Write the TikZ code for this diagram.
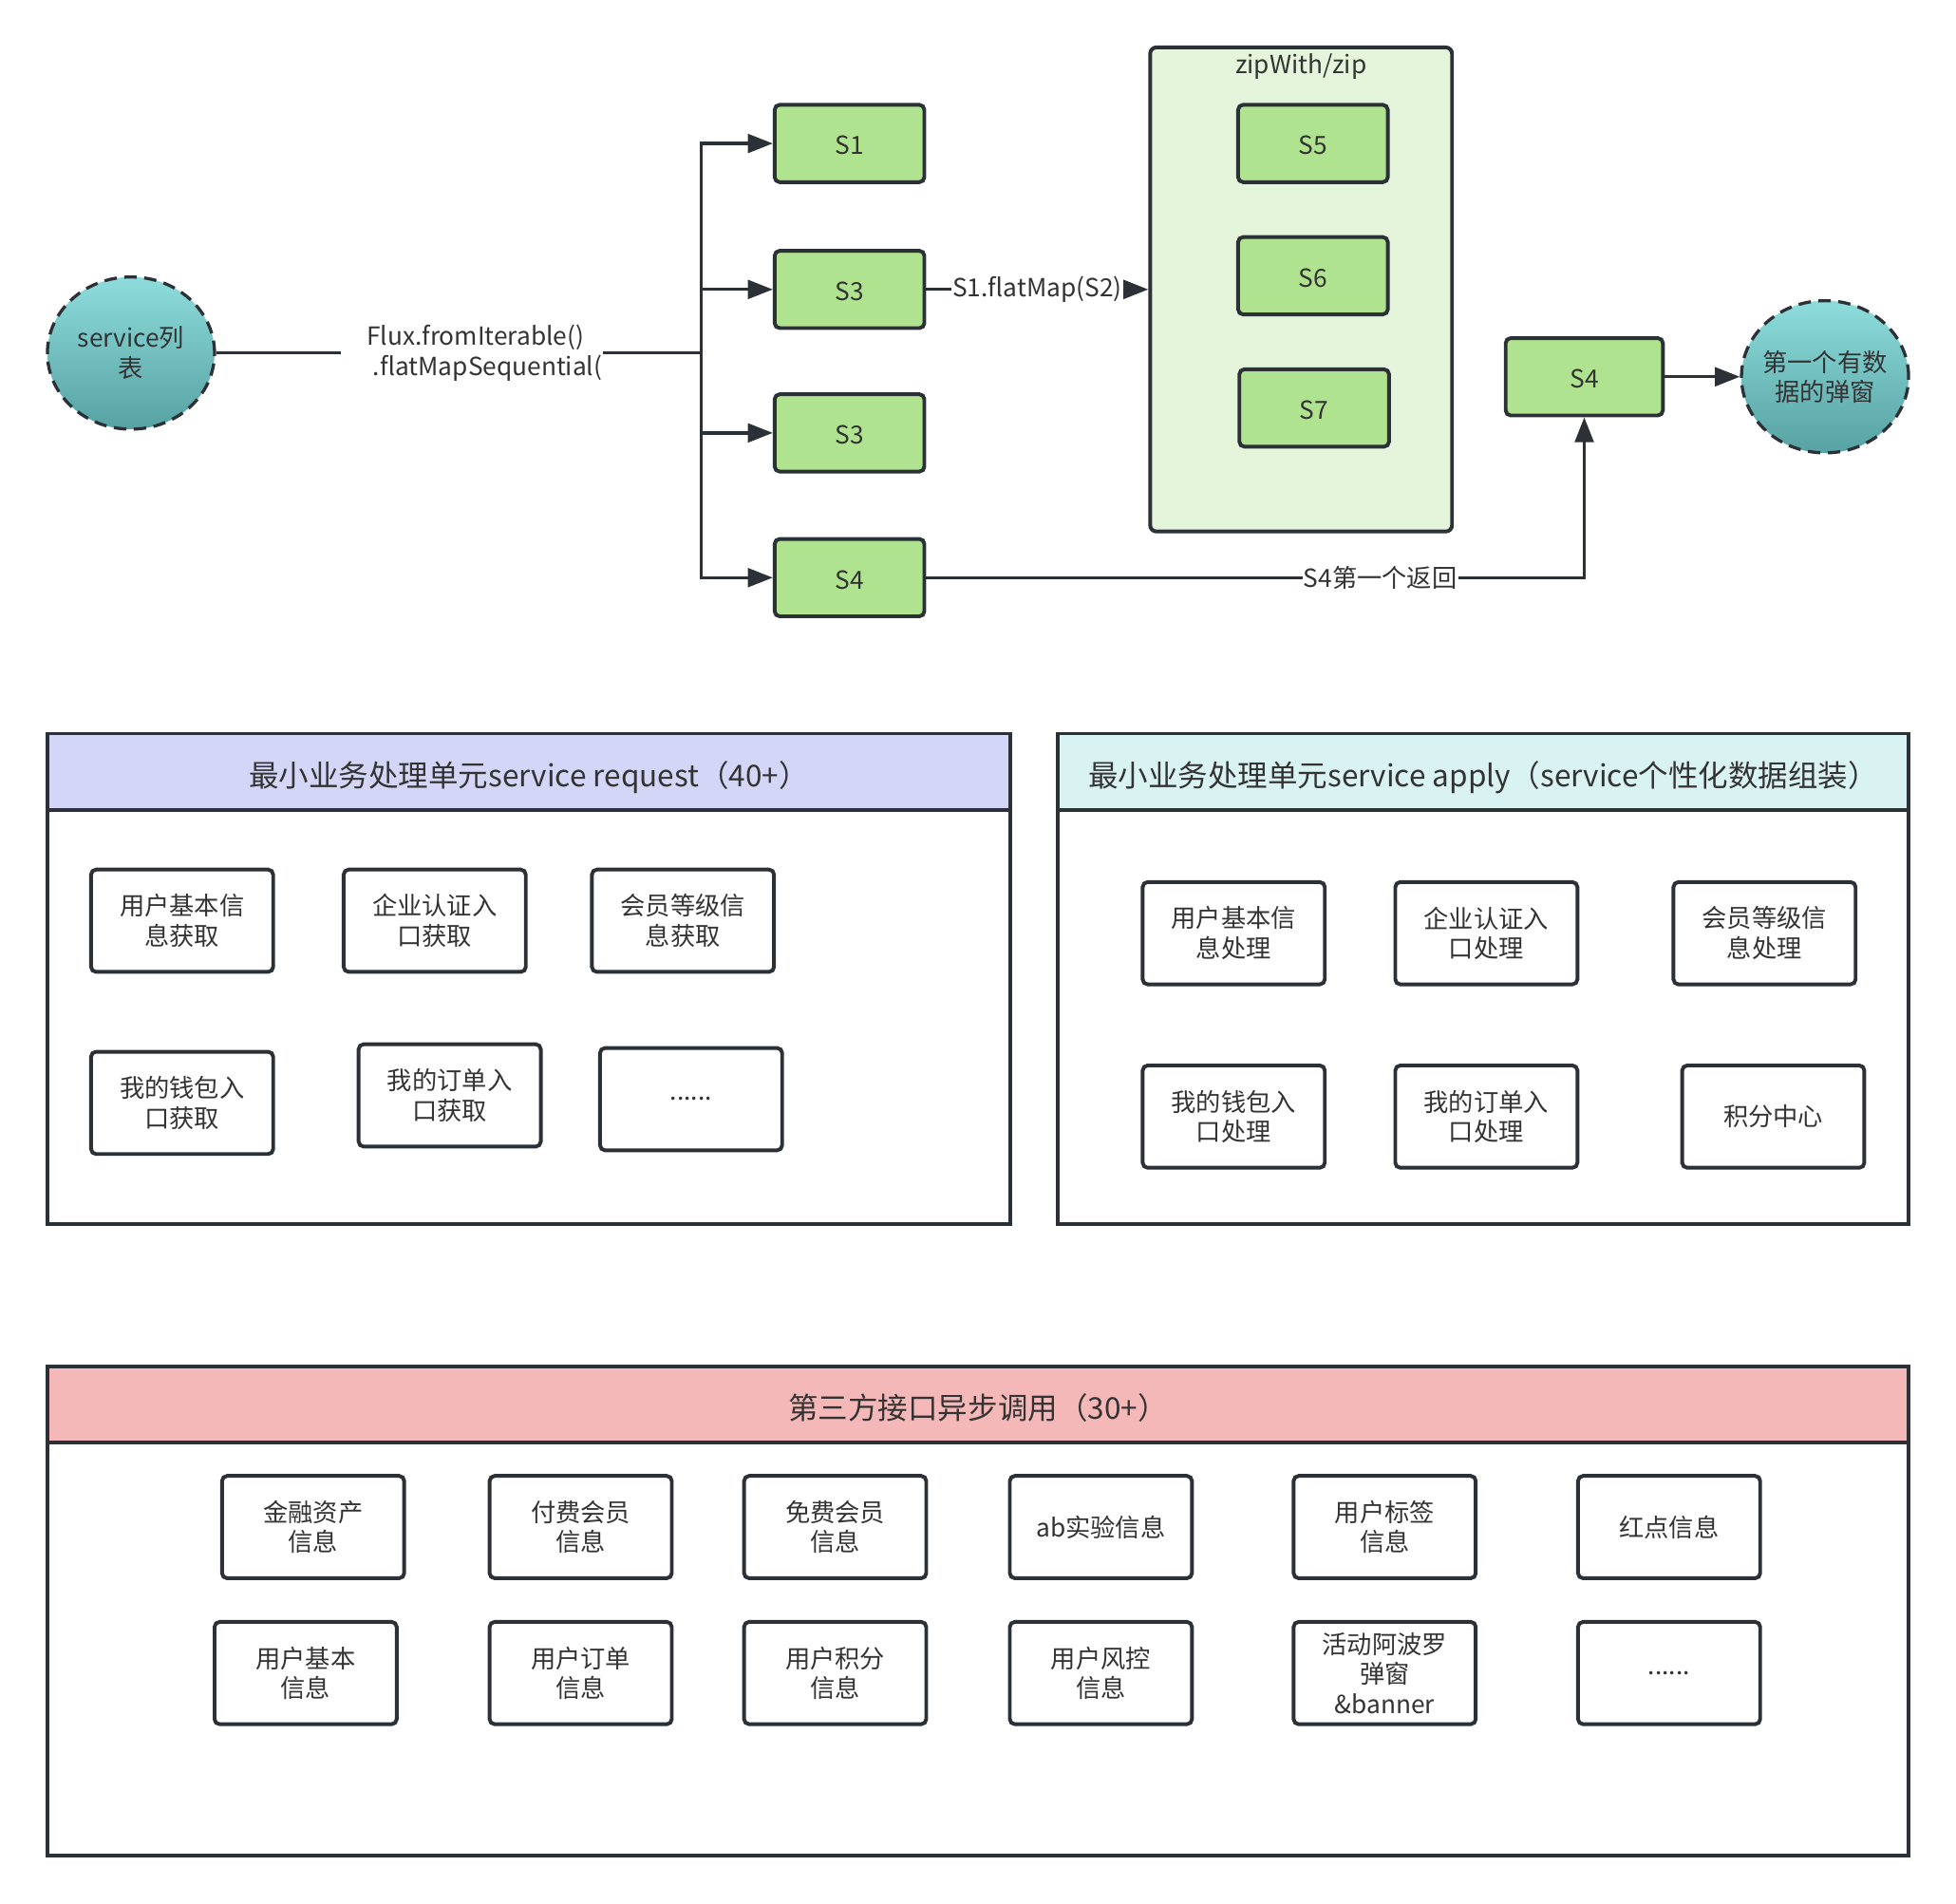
\documentclass[tikz,border=0pt]{standalone}
\usepackage{fontspec}
\setmainfont{Noto Sans CJK SC}
\usetikzlibrary{arrows.meta,shapes.geometric}
\definecolor{ln}{HTML}{2B3137}
\definecolor{txt}{HTML}{333333}
\definecolor{gfill}{HTML}{B0E38F}
\definecolor{zfill}{HTML}{E4F5DB}
\definecolor{tealtop}{HTML}{8EDCDC}
\definecolor{tealbot}{HTML}{57A2A3}
\definecolor{lav}{HTML}{D3D6F7}
\definecolor{cyanh}{HTML}{D9F3F2}
\definecolor{pinkh}{HTML}{F4B8B8}
\begin{document}
\begin{tikzpicture}[x=1pt,y=-1pt,
  txtf/.style={font=\fontsize{20}{24}\selectfont, text=txt},
  gbox/.style={txtf, draw=ln, line width=3pt, rounded corners=4pt, fill=gfill, minimum width=120pt, minimum height=62pt, inner sep=0pt, text height=18pt, text depth=0pt},
  wbox/.style={txtf, draw=ln, line width=3pt, rounded corners=4pt, fill=white, minimum width=146pt, minimum height=82pt, align=center, inner sep=0pt},
  circ/.style={ellipse, draw=ln, line width=2.5pt, dash pattern=on 10pt off 6pt, top color=tealtop, bottom color=tealbot, minimum width=134pt, minimum height=122pt, inner sep=0pt},
  ctext/.style={txtf, align=center, inner sep=0pt},
  conn/.style={draw=ln, line width=2.5pt},
  arr/.style={conn, -{Triangle[length=20pt,width=15pt]}},
  lab/.style={txtf, fill=white, inner sep=1pt},
  panel/.style={draw=ln, line width=3pt, fill=white, inner sep=0pt},
  hdr/.style={draw=ln, line width=3pt, inner sep=0pt, font=\fontsize{24}{28}\selectfont, text=txt, text height=24pt, text depth=0pt},
  ]
\useasboundingbox (0,0) rectangle (1568,1526);
% ---------- top flow ----------
\node[circ] (svc) at (105,283) {};
\node[ctext] (svct) at (svc.center) {service列\\表};
\node[txtf, align=left, inner xsep=0pt, inner ysep=0pt, anchor=east] (flux) at (483,283) {Flux.fromIterable()\\\hspace*{0.25em}.flatMapSequential(};
\coordinate (fluxL) at (273,283);
\coordinate (tr) at (562,283);
\draw[conn] (svc) -- (fluxL);
\draw[conn] (flux.east) -- (tr);

\node[gbox] (s1) at (681,115) {S1};
\node[gbox] (s3a) at (681,232) {S3};
\node[gbox] (s3b) at (681,347) {S3};
\node[gbox] (s4a) at (681,463) {S4};
\draw[arr] (tr) |- (s1.west);
\draw[arr] (tr) |- (s3a.west);
\draw[arr] (tr) |- (s3b.west);
\draw[arr] (tr) |- (s4a.west);

\node[draw=ln, line width=3pt, rounded corners=5pt, fill=zfill, minimum width=242pt, minimum height=388pt, inner sep=0pt] (zipc) at (1043,232) {};
\node[txtf] (ziptitle) at (1043,53) {zipWith/zip};
\node[gbox] (s5) at (1052.5,115) {S5};
\node[gbox] (s6) at (1052.5,221) {S6};
\node[gbox] (s7) at (1053.5,327) {S7};
\draw[arr] (s3a.east) -- node[lab] {S1.flatMap(S2)} (s3a.east -| zipc.west);

\node[gbox, minimum width=126pt] (s4b) at (1270,302) {S4};
\node[circ] (pop) at (1463,302) {};
\node[ctext] (popt) at (pop.center) {第一个有数\\据的弹窗};
\draw[arr] (s4b.east) -- (pop.west);
\draw[arr] (s4a.east) -- (s4a.east -| s4b) node[lab, pos=0.69] {S4第一个返回} -- (s4b.south);

% ---------- panel 1 ----------
\node[panel, minimum width=772pt, minimum height=393pt] (pn1) at (424,784.5) {};
\node[hdr, fill=lav, minimum width=772pt, minimum height=61pt, anchor=north] (h1) at (pn1.north) {最小业务处理单元service request（40+）};
\node[wbox] (p1a) at (146,738) {用户基本信\\息获取};
\node[wbox] (p1b) at (348.5,738) {企业认证入\\口获取};
\node[wbox] (p1c) at (547.5,738) {会员等级信\\息获取};
\node[wbox] (p1d) at (146,884) {我的钱包入\\口获取};
\node[wbox] (p1e) at (360.5,878) {我的订单入\\口获取};
\node[wbox] (p1f) at (554,881) {......};

% ---------- panel 2 ----------
\node[panel, minimum width=682pt, minimum height=393pt] (pn2) at (1189,784.5) {};
\node[hdr, fill=cyanh, minimum width=682pt, minimum height=61pt, anchor=north] (h2) at (pn2.north) {最小业务处理单元service apply（service个性化数据组装）};
\node[wbox] (p2a) at (989,748) {用户基本信\\息处理};
\node[wbox] (p2b) at (1191.5,748) {企业认证入\\口处理};
\node[wbox] (p2c) at (1414.5,748) {会员等级信\\息处理};
\node[wbox] (p2d) at (989,895) {我的钱包入\\口处理};
\node[wbox] (p2e) at (1191.5,895) {我的订单入\\口处理};
\node[wbox] (p2f) at (1421.5,895) {积分中心};

% ---------- panel 3 ----------
\node[panel, minimum width=1492pt, minimum height=392pt] (pn3) at (784,1291) {};
\node[hdr, fill=pinkh, minimum width=1492pt, minimum height=61pt, anchor=north] (h3) at (pn3.north) {第三方接口异步调用（30+）};
\node[wbox] (q1) at (251,1224) {金融资产\\信息};
\node[wbox] (q2) at (465.5,1224) {付费会员\\信息};
\node[wbox] (q3) at (669.5,1224) {免费会员\\信息};
\node[wbox] (q4) at (882.5,1224) {ab实验信息};
\node[wbox] (q5) at (1110,1224) {用户标签\\信息};
\node[wbox] (q6) at (1338,1224) {红点信息};
\node[wbox] (r1) at (245,1341) {用户基本\\信息};
\node[wbox] (r2) at (465.5,1341) {用户订单\\信息};
\node[wbox] (r3) at (669.5,1341) {用户积分\\信息};
\node[wbox] (r4) at (882.5,1341) {用户风控\\信息};
\node[wbox] (r5) at (1110,1341) {活动阿波罗\\弹窗\\\&banner};
\node[wbox] (r6) at (1338,1341) {......};
\end{tikzpicture}
\end{document}
